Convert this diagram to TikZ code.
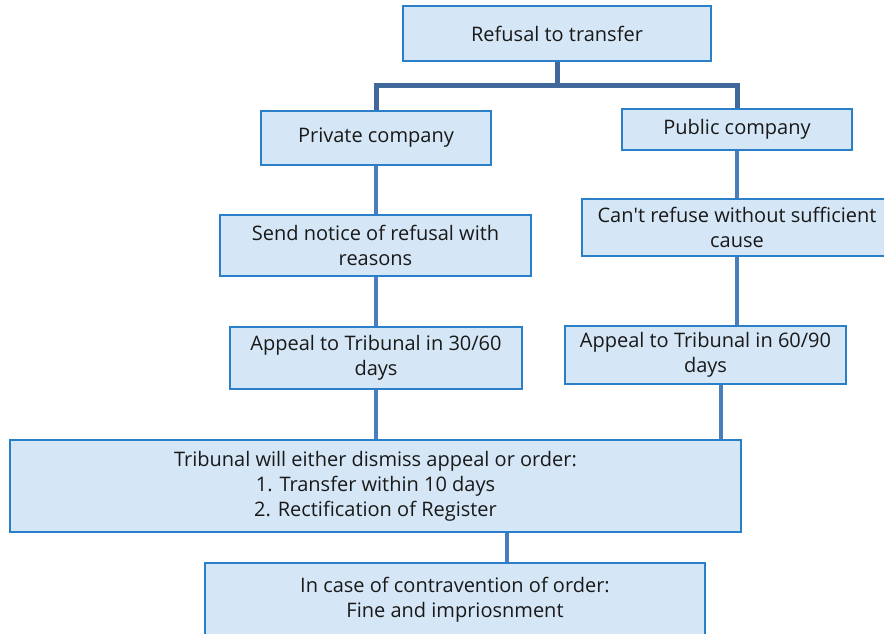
\documentclass[tikz,border=0pt]{standalone}
\usepackage{fontspec}
\setmainfont{Open Sans}
\definecolor{boxfill}{RGB}{213,231,246}
\definecolor{boxline}{RGB}{41,128,200}
\definecolor{trunkline}{RGB}{65,104,155}
\definecolor{linkline}{RGB}{74,125,187}

\tikzstyle{box} = [draw=boxline, fill=boxfill, line width=2.5pt, align=center, inner sep=0pt, text=black!90, font=\fontsize{20}{25}\selectfont]
\tikzstyle{edge} = [draw, line width=4pt, -, linkline]
\tikzstyle{trunk edge} = [draw, line width=5pt, -, trunkline]

\begin{document}
\begin{tikzpicture}[x=1pt, y=-1pt]
       \useasboundingbox (0,0) rectangle (884,634);
       \node[box, minimum width=308, minimum height=55] (refusal) at (557,33.5) {Refusal to transfer};
       \node[box, minimum width=230, minimum height=54] (private) at (376,138) {Private company};
       \node[box, minimum width=230, minimum height=41] (public) at (737,129.5) {Public company};
       \node[box, minimum width=311, minimum height=61] (notice) at (375.5,245.5) {Send notice of refusal with\\reasons};
       \node[box, minimum width=310, minimum height=57] (cant) at (737,227.5) {Can\textquotesingle t refuse without sufficient\\cause};
       \node[box, minimum width=292, minimum height=62] (appealA) at (376,358) {Appeal to Tribunal in 30/60\\days};
       \node[box, minimum width=281, minimum height=58] (appealB) at (705.5,355) {Appeal to Tribunal in 60/90\\days};
       \node[box, minimum width=731, minimum height=92] (tribunal) at (375.5,486) {Tribunal will either dismiss appeal or order:\\1. Transfer within 10 days\\2. Rectification of Register};
       \node[box, minimum width=500, minimum height=74] (contra) at (455,600) {In case of contravention of order:\\Fine and impriosnment};

       % tree below the top box
       \coordinate (split) at (557,86);
       \path[trunk edge] (refusal.south) -- (split);
       \path[trunk edge] (split) -| (private.north);
       \path[trunk edge] (split) -| (public.north);

       \foreach \source/\sink in {private/notice, notice/appealA, appealA/tribunal, public/cant, cant/appealB} {
           \path[edge] (\source.south) -- (\source.south |- \sink.north);
       }
       \coordinate (footB) at ([xshift=15pt]appealB.south);
       \path[edge] (footB) -- (footB |- tribunal.north);
       \coordinate (headC) at ([xshift=52pt]contra.north);
       \path[edge] (headC |- tribunal.south) -- (headC);
\end{tikzpicture}
\end{document}
